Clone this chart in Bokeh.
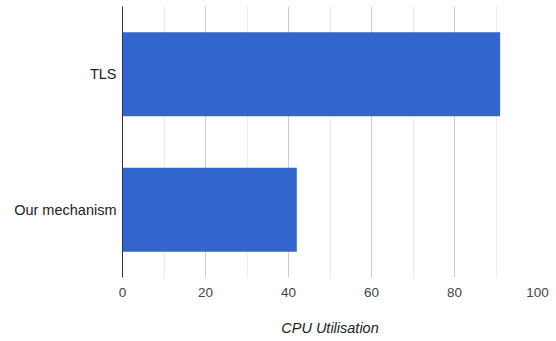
from bokeh.plotting import figure
from bokeh.models import FactorRange, Range1d, SingleIntervalTicker, ColumnDataSource
from bokeh.embed import file_html
from bokeh.resources import INLINE

# CPU utilisation (%) per approach
categories = ["Our mechanism", "TLS"]
cpu_util = [42, 91]

source = ColumnDataSource(data=dict(cat=categories, val=cpu_util))

p = figure(
    width=556, height=341,
    y_range=FactorRange(*categories),
    x_range=Range1d(0, 100),
    output_backend="svg",
    toolbar_location=None,
    min_border_left=122, min_border_right=19,
    min_border_top=6, min_border_bottom=64,
)
p.outline_line_color = None
p.background_fill_color = "white"
p.border_fill_color = "white"

p.hbar(y="cat", right="val", left=0, height=0.62, source=source,
       fill_color="#3366cc", line_color=None)

# x axis: labels every 20, light minor gridlines every 10
p.xaxis.ticker = SingleIntervalTicker(interval=20, num_minor_ticks=2)
p.xaxis.axis_line_color = None
p.xaxis.major_tick_line_color = None
p.xaxis.minor_tick_line_color = None
p.xaxis.major_label_text_font = "Liberation Sans"
p.xaxis.major_label_text_font_size = "13.5px"
p.xaxis.major_label_text_color = "#444444"
p.xaxis.major_label_standoff = 4
p.xaxis.axis_label = "CPU Utilisation"
p.xaxis.axis_label_text_font = "Liberation Sans"
p.xaxis.axis_label_text_font_style = "italic"
p.xaxis.axis_label_text_font_size = "14.5px"
p.xaxis.axis_label_text_color = "#222222"
p.xaxis.axis_label_standoff = 20

p.xgrid.grid_line_color = "#cccccc"
p.xgrid.minor_grid_line_color = "#ebebeb"
p.ygrid.grid_line_color = None

# y axis: category labels and dark baseline at zero
p.yaxis.axis_line_color = "#333333"
p.yaxis.major_tick_line_color = None
p.yaxis.minor_tick_line_color = None
p.yaxis.major_label_text_font = "Liberation Sans"
p.yaxis.major_label_text_font_size = "14.5px"
p.yaxis.major_label_text_color = "#222222"
p.yaxis.major_label_standoff = 0

open("out.html", "w").write(file_html(p, INLINE))
